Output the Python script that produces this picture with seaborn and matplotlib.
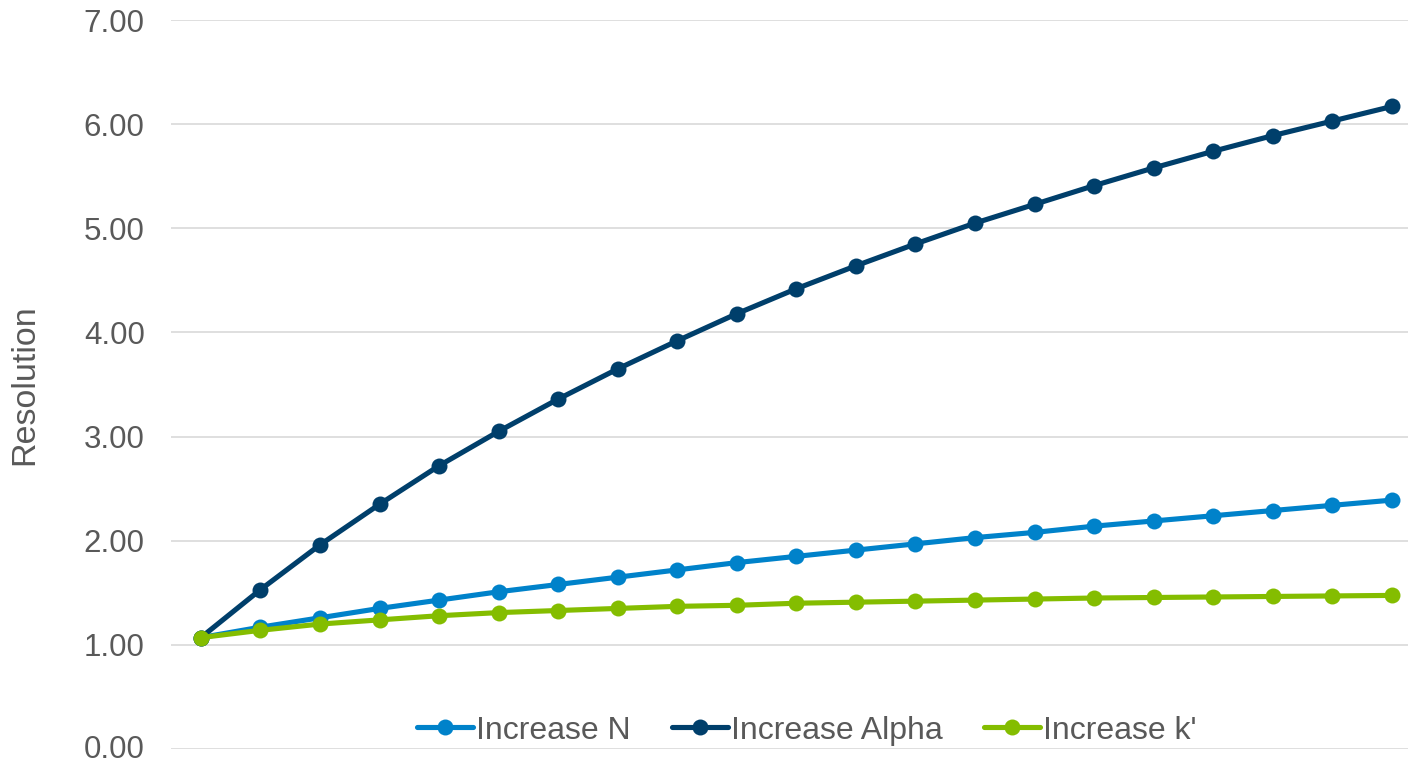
import matplotlib
matplotlib.use("Agg")
import matplotlib.pyplot as plt
import matplotlib.transforms as mtransforms
import seaborn as sns
import pandas as pd
import numpy as np

steps = list(range(21))
increase_n = [1.07, 1.17, 1.26, 1.35, 1.43, 1.51, 1.58, 1.65, 1.72, 1.79, 1.85,
              1.91, 1.97, 2.03, 2.08, 2.14, 2.19, 2.24, 2.29, 2.34, 2.39]
increase_alpha = [1.07, 1.53, 1.96, 2.35, 2.72, 3.05, 3.36, 3.65, 3.92, 4.18, 4.42,
                  4.64, 4.85, 5.05, 5.23, 5.41, 5.58, 5.74, 5.89, 6.03, 6.17]
increase_k = [1.07, 1.14, 1.20, 1.24, 1.28, 1.31, 1.33, 1.35, 1.37, 1.38, 1.40,
              1.41, 1.42, 1.43, 1.44, 1.45, 1.455, 1.46, 1.465, 1.47, 1.475]
series_names = ["Increase N", "Increase Alpha", "Increase k'"]
colors = ["#0082CA", "#003F6B", "#84BD00"]
y_ticks = [0, 1, 2, 3, 4, 5, 6, 7]
y_labels = ["0.00", "1.00", "2.00", "3.00", "4.00", "5.00", "6.00", "7.00"]

df = pd.DataFrame({
    "step": steps * 3,
    "value": increase_n + increase_alpha + increase_k,
    "series": [series_names[0]] * 21 + [series_names[1]] * 21 + [series_names[2]] * 21,
})

sns.set_theme(style="white")
plt.rcParams["font.family"] = ["Liberation Sans", "DejaVu Sans"]

fig = plt.figure(figsize=(14.08, 7.64), dpi=100)
ax = fig.add_axes([0.1215, 0.0196, 0.8785, 0.9542])

sns.lineplot(data=df, x="step", y="value", hue="series", hue_order=series_names,
             palette=colors, marker="o", markersize=11.5, markeredgewidth=0,
             linewidth=3.7, ax=ax, legend=True)

ax.set_xlim(-0.5, 20.27)
ax.set_ylim(0, 7)
ax.set_yticks(y_ticks)
ax.set_yticklabels(y_labels)
ax.set_xticks([])
ax.set_xlabel("")
ax.set_ylabel("Resolution", fontsize=24.5, color="#595959", labelpad=31)
ax.tick_params(axis="y", labelsize=22.5, colors="#595959", length=0, pad=19)
ax.grid(axis="y", color="#D9D9D9", linewidth=1.2)
ax.set_axisbelow(True)
for s in ax.spines.values():
    s.set_visible(False)

# nudge the bottom tick label up slightly so it stays inside the canvas
bottom_lbl = ax.get_yticklabels()[0]
bottom_lbl.set_transform(bottom_lbl.get_transform() +
                         mtransforms.ScaledTranslation(0, 2.5 / 100, fig.dpi_scale_trans))

leg = ax.legend(loc="lower center", bbox_to_anchor=(0.514, -0.026), ncol=3,
                frameon=False, fontsize=23, handlelength=1.75,
                handletextpad=0.1, columnspacing=1.3, borderaxespad=0.3)
for t in leg.get_texts():
    t.set_color("#595959")

fig.savefig("out.png", dpi=100)
